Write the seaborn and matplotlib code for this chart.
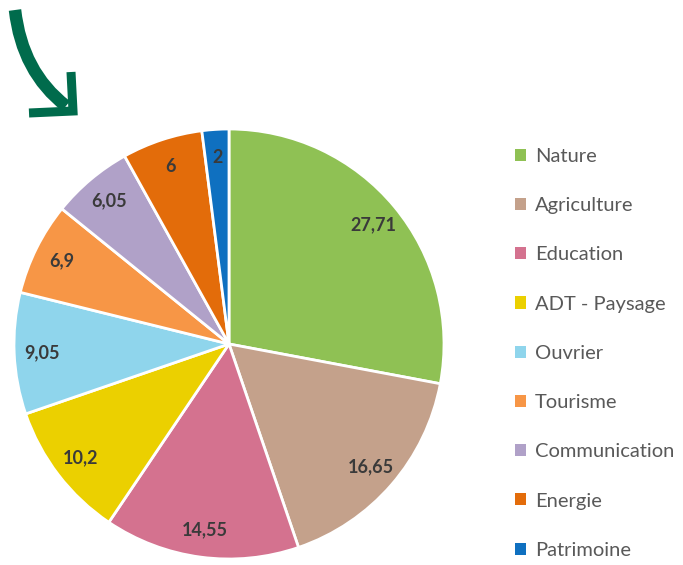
import matplotlib
matplotlib.use("Agg")
import matplotlib.pyplot as plt
import seaborn as sns
from matplotlib.patches import PathPatch, Patch
from matplotlib.path import Path

# Données
categories = ["Nature", "Agriculture", "Education", "ADT - Paysage", "Ouvrier",
              "Tourisme", "Communication", "Energie", "Patrimoine"]
valeurs = [27.71, 16.65, 14.55, 10.2, 9.05, 6.9, 6.05, 6, 2]
etiquettes = ["27,71", "16,65", "14,55", "10,2", "9,05", "6,9", "6,05", "6", "2"]
couleurs = ["#8FC154", "#C4A18B", "#D4728F", "#EBD000", "#8FD5EC",
            "#F79646", "#B0A1C8", "#E36C0A", "#0F70C0"]

sns.set_theme(style="white")
plt.rcParams["font.family"] = ["Lato", "DejaVu Sans"]

fig = plt.figure(figsize=(6.83, 5.65), dpi=100)
W, H = 683, 565

# Camembert
ax = fig.add_axes([14 / W, 6 / H, 430 / W, 430 / H])
it = iter(etiquettes)
wedges, _, autotexts = ax.pie(valeurs, colors=couleurs, startangle=90, counterclock=False,
                              autopct=lambda p: next(it), pctdistance=0.87,
                              wedgeprops=dict(edgecolor="white", linewidth=2),
                              textprops=dict(color="#3A3A3A", fontsize=13, fontweight="bold"))
ax.set_xlim(-1, 1)
ax.set_ylim(-1, 1)
ax.set_aspect("equal")
ax.axis("off")

# Légende
handles = [Patch(facecolor=c, edgecolor="none") for c in couleurs]
leg = fig.legend(handles, categories, loc="upper left", bbox_to_anchor=(515 / W, 1 - 148 / H),
                 frameon=False, fontsize=14.5, labelspacing=1.6, handlelength=0.55,
                 handleheight=0.55, handletextpad=0.45, borderpad=0, borderaxespad=0)
for t in leg.get_texts():
    t.set_color("#595959")

# Flèche verte
ov = fig.add_axes([0, 0, 1, 1])
ov.set_xlim(0, W)
ov.set_ylim(H, 0)
ov.axis("off")
vert = "#006B4C"
tige = Path([(15, 10), (22, 72), (66, 106)], [Path.MOVETO, Path.CURVE3, Path.CURVE3])
ov.add_patch(PathPatch(tige, facecolor="none", edgecolor=vert, linewidth=9, capstyle="butt"))
pointe = Path([(71, 72), (73, 111), (29, 113)], [Path.MOVETO, Path.LINETO, Path.LINETO])
ov.add_patch(PathPatch(pointe, facecolor="none", edgecolor=vert, linewidth=6.5,
                       capstyle="butt", joinstyle="miter"))

fig.savefig("out.png", dpi=100)
